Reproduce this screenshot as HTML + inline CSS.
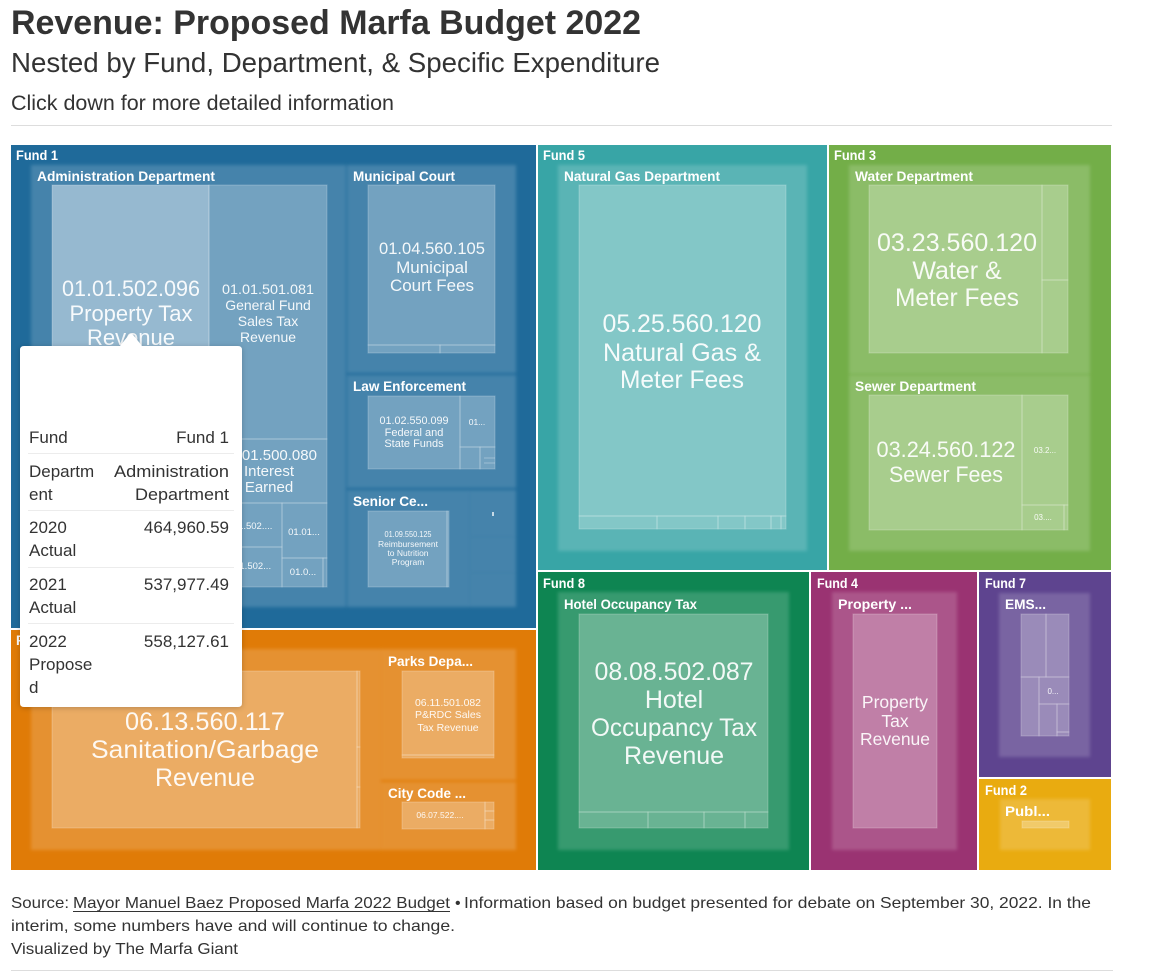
<!DOCTYPE html>
<html><head><meta charset="utf-8"><style>
html,body{margin:0;padding:0;background:#fff;}
svg{display:block;}
text{font-family:"Liberation Sans",sans-serif;}
.fl{fill:#fff;font-weight:bold;font-size:13.5px;}
.dl{fill:#fff;font-weight:bold;font-size:13.5px;}
.lv{fill:#fff;fill-opacity:0.92;text-anchor:middle;}
.dep{fill:#fff;fill-opacity:0.17;filter:url(#bl);}
.leaf{fill:#fff;fill-opacity:0.25;stroke:#fff;stroke-opacity:0.22;stroke-width:1;}
.ln{stroke:#fff;stroke-opacity:0.3;stroke-width:1;fill:none;}
.tt{fill:#333;font-size:17px;}
.ft{fill:#333;font-size:16px;}
</style></head><body>
<svg width="1150" height="980" viewBox="0 0 1150 980" xmlns="http://www.w3.org/2000/svg">
<defs>
<filter id="sh" x="-20%" y="-20%" width="140%" height="140%">
<feDropShadow dx="0" dy="1" stdDeviation="3" flood-color="#000" flood-opacity="0.22"/>
</filter>
<filter id="bl" x="-10%" y="-10%" width="120%" height="120%">
<feGaussianBlur stdDeviation="1.5"/>
</filter>
</defs>
<rect width="1150" height="980" fill="#fff"/>

<!-- Header -->
<text x="11" y="34" font-size="34" font-weight="bold" fill="#333" textLength="630" lengthAdjust="spacingAndGlyphs">Revenue: Proposed Marfa Budget 2022</text>
<text x="11" y="72" font-size="27.5" fill="#333" textLength="649" lengthAdjust="spacingAndGlyphs">Nested by Fund, Department, &amp; Specific Expenditure</text>
<text x="11" y="110" font-size="21" fill="#333" textLength="383" lengthAdjust="spacingAndGlyphs">Click down for more detailed information</text>
<line x1="11" y1="125.5" x2="1112" y2="125.5" stroke="#ddd" stroke-width="1"/>

<!-- Fund 1 -->
<rect x="11" y="145" width="525" height="483" fill="#1f6a9a"/>
<rect class="dep" x="31" y="165" width="315" height="442"/>
<rect class="dep" x="347" y="165" width="169" height="208"/>
<rect class="dep" x="347" y="375" width="169" height="113"/>
<rect class="dep" x="347" y="490" width="123" height="117"/>
<rect class="dep" x="470" y="490" width="46" height="47"/>
<rect class="dep" x="470" y="537" width="46" height="36"/>
<rect class="dep" x="470" y="573" width="46" height="34"/>
<!-- admin leaves -->
<rect class="leaf" x="52" y="185" width="157" height="402"/>
<rect x="52" y="185" width="157" height="402" fill="#fff" fill-opacity="0.25"/>
<rect class="leaf" x="209" y="185" width="118" height="254"/>
<rect class="leaf" x="209" y="439" width="118" height="64"/>
<rect class="leaf" x="209" y="503" width="73" height="44"/>
<rect class="leaf" x="282" y="503" width="45" height="55"/>
<rect class="leaf" x="209" y="547" width="73" height="40"/>
<rect class="leaf" x="282" y="558" width="41" height="29"/>
<rect class="leaf" x="323" y="558" width="4" height="29"/>
<!-- municipal -->
<rect class="leaf" x="368" y="185" width="127" height="160"/>
<rect class="leaf" x="368" y="345" width="72" height="8"/>
<rect class="leaf" x="440" y="345" width="55" height="8"/>
<!-- law -->
<rect class="leaf" x="368" y="396" width="92" height="73"/>
<rect class="leaf" x="460" y="396" width="35" height="51"/>
<rect class="leaf" x="460" y="447" width="20" height="22"/>
<rect class="leaf" x="480" y="447" width="15" height="22"/>
<line class="ln" x1="484" y1="458" x2="495" y2="458"/>
<line class="ln" x1="484" y1="463" x2="495" y2="463"/>
<!-- senior -->
<rect class="leaf" x="368" y="511" width="79" height="76"/>
<rect class="leaf" x="447" y="511" width="2" height="76"/>
<rect x="492" y="512" width="2" height="4" fill="#fff" fill-opacity="0.7"/>

<text class="fl" x="16" y="160" textLength="42" lengthAdjust="spacingAndGlyphs">Fund 1</text>
<text class="dl" x="37" y="181" textLength="178" lengthAdjust="spacingAndGlyphs">Administration Department</text>
<text class="dl" x="353" y="181" textLength="102" lengthAdjust="spacingAndGlyphs">Municipal Court</text>
<text class="dl" x="353" y="391" textLength="113" lengthAdjust="spacingAndGlyphs">Law Enforcement</text>
<text class="dl" x="353" y="506" textLength="75" lengthAdjust="spacingAndGlyphs">Senior Ce...</text>

<g class="lv" font-size="22">
<text x="131" y="296" textLength="138" lengthAdjust="spacingAndGlyphs">01.01.502.096</text>
<text x="131" y="321">Property Tax</text>
<text x="131" y="345">Revenue</text>
</g>
<g class="lv" font-size="14">
<text x="268" y="294" textLength="92" lengthAdjust="spacingAndGlyphs">01.01.501.081</text>
<text x="268" y="310">General Fund</text>
<text x="268" y="326">Sales Tax</text>
<text x="268" y="342">Revenue</text>
</g>
<g class="lv" font-size="15">
<text x="269" y="460">01.01.500.080</text>
<text x="269" y="476">Interest</text>
<text x="269" y="492">Earned</text>
</g>
<g class="lv" font-size="9.5">
<text x="246" y="529">01.01.502....</text>
<text x="304" y="535">01.01...</text>
<text x="246" y="569">01.01.502...</text>
<text x="303" y="575">01.0...</text>
</g>
<g class="lv" font-size="17">
<text x="432" y="254" textLength="106" lengthAdjust="spacingAndGlyphs">01.04.560.105</text>
<text x="432" y="273">Municipal</text>
<text x="432" y="291">Court Fees</text>
</g>
<g class="lv" font-size="11">
<text x="414" y="424" textLength="69" lengthAdjust="spacingAndGlyphs">01.02.550.099</text>
<text x="414" y="436">Federal and</text>
<text x="414" y="447">State Funds</text>
</g>
<text class="lv" x="477" y="425" font-size="8.5">01...</text>
<g class="lv" font-size="8.5">
<text x="408" y="537" textLength="47" lengthAdjust="spacingAndGlyphs">01.09.550.125</text>
<text x="408" y="547">Reimbursement</text>
<text x="408" y="556">to Nutrition</text>
<text x="408" y="565">Program</text>
</g>

<!-- Fund 6 -->
<rect x="11" y="630" width="525" height="240" fill="#e07b07"/>
<rect class="dep" x="31" y="649" width="350" height="201"/>
<rect class="dep" x="381" y="649" width="135" height="131"/>
<rect class="dep" x="381" y="782" width="135" height="68"/>
<rect class="leaf" x="52" y="671" width="305" height="157"/>
<rect class="leaf" x="357" y="671" width="3" height="76"/>
<rect class="leaf" x="357" y="747" width="3" height="40"/>
<rect class="leaf" x="357" y="787" width="3" height="41"/>
<rect class="leaf" x="402" y="671" width="92" height="84"/>
<rect class="leaf" x="402" y="755" width="92" height="3"/>
<rect class="leaf" x="402" y="802" width="83" height="27"/>
<rect class="leaf" x="485" y="802" width="9" height="9"/>
<rect class="leaf" x="485" y="811" width="9" height="9"/>
<rect class="leaf" x="485" y="820" width="9" height="9"/>
<text class="fl" x="16" y="645">Fund 6</text>
<text class="dl" x="37" y="665">Sanitation Department</text>
<text class="dl" x="388" y="666" textLength="85" lengthAdjust="spacingAndGlyphs">Parks Depa...</text>
<text class="dl" x="388" y="798" textLength="78" lengthAdjust="spacingAndGlyphs">City Code ...</text>
<g class="lv" font-size="25">
<text x="205" y="730" textLength="160" lengthAdjust="spacingAndGlyphs">06.13.560.117</text>
<text x="205" y="758" textLength="228" lengthAdjust="spacingAndGlyphs">Sanitation/Garbage</text>
<text x="205" y="786">Revenue</text>
</g>
<g class="lv" font-size="10.5">
<text x="448" y="706" textLength="66" lengthAdjust="spacingAndGlyphs">06.11.501.082</text>
<text x="448" y="718">P&amp;RDC Sales</text>
<text x="448" y="731">Tax Revenue</text>
</g>
<text class="lv" x="440" y="818" font-size="8.5">06.07.522....</text>

<!-- Fund 5 -->
<rect x="538" y="145" width="289" height="425" fill="#38a5a6"/>
<rect class="dep" x="558" y="165" width="249" height="386"/>
<rect class="leaf" x="579" y="185" width="207" height="331"/>
<rect class="leaf" x="579" y="516" width="78" height="13"/>
<rect class="leaf" x="657" y="516" width="61" height="13"/>
<rect class="leaf" x="718" y="516" width="27" height="13"/>
<rect class="leaf" x="745" y="516" width="26" height="13"/>
<rect class="leaf" x="771" y="516" width="10" height="13"/>
<rect class="leaf" x="781" y="516" width="5" height="13"/>
<text class="fl" x="543" y="160" textLength="42" lengthAdjust="spacingAndGlyphs">Fund 5</text>
<text class="dl" x="564" y="181" textLength="156" lengthAdjust="spacingAndGlyphs">Natural Gas Department</text>
<g class="lv" font-size="25">
<text x="682" y="332" textLength="159" lengthAdjust="spacingAndGlyphs">05.25.560.120</text>
<text x="682" y="361" textLength="158" lengthAdjust="spacingAndGlyphs">Natural Gas &amp;</text>
<text x="682" y="388" textLength="124" lengthAdjust="spacingAndGlyphs">Meter Fees</text>
</g>

<!-- Fund 3 -->
<rect x="829" y="145" width="282" height="425" fill="#73ae48"/>
<rect class="dep" x="849" y="165" width="241" height="209"/>
<rect class="dep" x="849" y="375" width="241" height="176"/>
<rect class="leaf" x="869" y="185" width="173" height="168"/>
<rect class="leaf" x="1042" y="185" width="26" height="95"/>
<rect class="leaf" x="1042" y="280" width="26" height="73"/>
<rect class="leaf" x="869" y="395" width="153" height="135"/>
<rect class="leaf" x="1022" y="395" width="46" height="110"/>
<rect class="leaf" x="1022" y="505" width="42" height="25"/>
<rect class="leaf" x="1064" y="505" width="4" height="25"/>
<text class="fl" x="834" y="160" textLength="42" lengthAdjust="spacingAndGlyphs">Fund 3</text>
<text class="dl" x="855" y="181" textLength="118" lengthAdjust="spacingAndGlyphs">Water Department</text>
<text class="dl" x="855" y="391" textLength="121" lengthAdjust="spacingAndGlyphs">Sewer Department</text>
<g class="lv" font-size="25">
<text x="957" y="251" textLength="160" lengthAdjust="spacingAndGlyphs">03.23.560.120</text>
<text x="957" y="279">Water &amp;</text>
<text x="957" y="306" textLength="124" lengthAdjust="spacingAndGlyphs">Meter Fees</text>
</g>
<g class="lv" font-size="22">
<text x="946" y="457" textLength="139" lengthAdjust="spacingAndGlyphs">03.24.560.122</text>
<text x="946" y="482" textLength="114" lengthAdjust="spacingAndGlyphs">Sewer Fees</text>
</g>
<text class="lv" x="1045" y="453" font-size="8">03.2...</text>
<text class="lv" x="1043" y="520" font-size="8">03....</text>

<!-- Fund 8 -->
<rect x="538" y="572" width="271" height="298" fill="#0e8552"/>
<rect class="dep" x="558" y="592" width="231" height="258"/>
<rect class="leaf" x="579" y="614" width="189" height="198"/>
<rect class="leaf" x="579" y="812" width="69" height="16"/>
<rect class="leaf" x="648" y="812" width="56" height="16"/>
<rect class="leaf" x="704" y="812" width="41" height="16"/>
<rect class="leaf" x="745" y="812" width="23" height="16"/>
<text class="fl" x="543" y="588" textLength="42" lengthAdjust="spacingAndGlyphs">Fund 8</text>
<text class="dl" x="564" y="609" textLength="133" lengthAdjust="spacingAndGlyphs">Hotel Occupancy Tax</text>
<g class="lv" font-size="25">
<text x="674" y="680" textLength="159" lengthAdjust="spacingAndGlyphs">08.08.502.087</text>
<text x="674" y="708">Hotel</text>
<text x="674" y="736" textLength="166" lengthAdjust="spacingAndGlyphs">Occupancy Tax</text>
<text x="674" y="764">Revenue</text>
</g>

<!-- Fund 4 -->
<rect x="811" y="572" width="166" height="298" fill="#9a3372"/>
<rect class="dep" x="832" y="592" width="125" height="258"/>
<rect class="leaf" x="853" y="614" width="84" height="214"/>
<text class="fl" x="817" y="588" textLength="41" lengthAdjust="spacingAndGlyphs">Fund 4</text>
<text class="dl" x="838" y="609" textLength="74" lengthAdjust="spacingAndGlyphs">Property ...</text>
<g class="lv" font-size="17.5">
<text x="895" y="708">Property</text>
<text x="895" y="727">Tax</text>
<text x="895" y="745">Revenue</text>
</g>

<!-- Fund 7 -->
<rect x="979" y="572" width="132" height="205" fill="#5e448f"/>
<rect class="dep" x="999" y="593" width="91" height="164"/>
<rect class="leaf" x="1021" y="614" width="25" height="63"/>
<rect class="leaf" x="1046" y="614" width="23" height="63"/>
<rect class="leaf" x="1021" y="677" width="18" height="59"/>
<rect class="leaf" x="1039" y="677" width="30" height="27"/>
<rect class="leaf" x="1039" y="704" width="18" height="32"/>
<rect class="leaf" x="1057" y="704" width="12" height="28"/>
<rect class="leaf" x="1057" y="732" width="12" height="4"/>
<text class="fl" x="985" y="588" textLength="41" lengthAdjust="spacingAndGlyphs">Fund 7</text>
<text class="dl" x="1005" y="609" textLength="41" lengthAdjust="spacingAndGlyphs">EMS...</text>
<text class="lv" x="1053" y="694" font-size="8">0...</text>

<!-- Fund 2 -->
<rect x="979" y="779" width="132" height="91" fill="#e9ab10"/>
<rect class="dep" x="1000" y="799" width="90" height="51"/>
<rect class="leaf" x="1022" y="821" width="47" height="7"/>
<text class="fl" x="985" y="795" textLength="42" lengthAdjust="spacingAndGlyphs">Fund 2</text>
<text class="dl" x="1005" y="816" textLength="45" lengthAdjust="spacingAndGlyphs">Publ...</text>

<!-- Tooltip -->
<g filter="url(#sh)">
<path d="M20,350 Q20,346 24,346 L120,346 L128,336 Q131,332 134,336 L142,346 L238,346 Q242,346 242,350 L242,703 Q242,707 238,707 L24,707 Q20,707 20,703 Z" fill="#fff"/>
</g>
<g class="tt">
<text x="29" y="443">Fund</text>
<text x="229" y="443" text-anchor="end">Fund 1</text>
<text x="29" y="477">Departm</text>
<text x="29" y="500">ent</text>
<text x="229" y="477" text-anchor="end" textLength="115" lengthAdjust="spacingAndGlyphs">Administration</text>
<text x="229" y="500" text-anchor="end" textLength="94" lengthAdjust="spacingAndGlyphs">Department</text>
<text x="29" y="533">2020</text>
<text x="29" y="556">Actual</text>
<text x="229" y="533" text-anchor="end">464,960.59</text>
<text x="29" y="590">2021</text>
<text x="29" y="613">Actual</text>
<text x="229" y="590" text-anchor="end">537,977.49</text>
<text x="29" y="647">2022</text>
<text x="29" y="670">Propose</text>
<text x="29" y="693">d</text>
<text x="229" y="647" text-anchor="end">558,127.61</text>
</g>
<g stroke="#ececec" stroke-width="1">
<line x1="28" y1="453.5" x2="234" y2="453.5"/>
<line x1="28" y1="510.5" x2="234" y2="510.5"/>
<line x1="28" y1="567.5" x2="234" y2="567.5"/>
<line x1="28" y1="623.5" x2="234" y2="623.5"/>
</g>

<!-- Footer -->
<text class="ft" x="11" y="908" textLength="58" lengthAdjust="spacingAndGlyphs">Source:</text>
<text class="ft" x="73" y="908" textLength="377" lengthAdjust="spacingAndGlyphs">Mayor Manuel Baez Proposed Marfa 2022 Budget</text>
<line x1="73" y1="911.5" x2="450" y2="911.5" stroke="#333" stroke-width="1"/>
<text class="ft" x="455" y="908">•</text>
<text class="ft" x="464" y="908" textLength="627" lengthAdjust="spacingAndGlyphs">Information based on budget presented for debate on September 30, 2022. In the</text>
<text class="ft" x="11" y="931" textLength="444" lengthAdjust="spacingAndGlyphs">interim, some numbers have and will continue to change.</text>
<text class="ft" x="11" y="954" textLength="227" lengthAdjust="spacingAndGlyphs">Visualized by The Marfa Giant</text>
<line x1="11" y1="970.5" x2="1113" y2="970.5" stroke="#ddd" stroke-width="1"/>
</svg>
</body></html>
